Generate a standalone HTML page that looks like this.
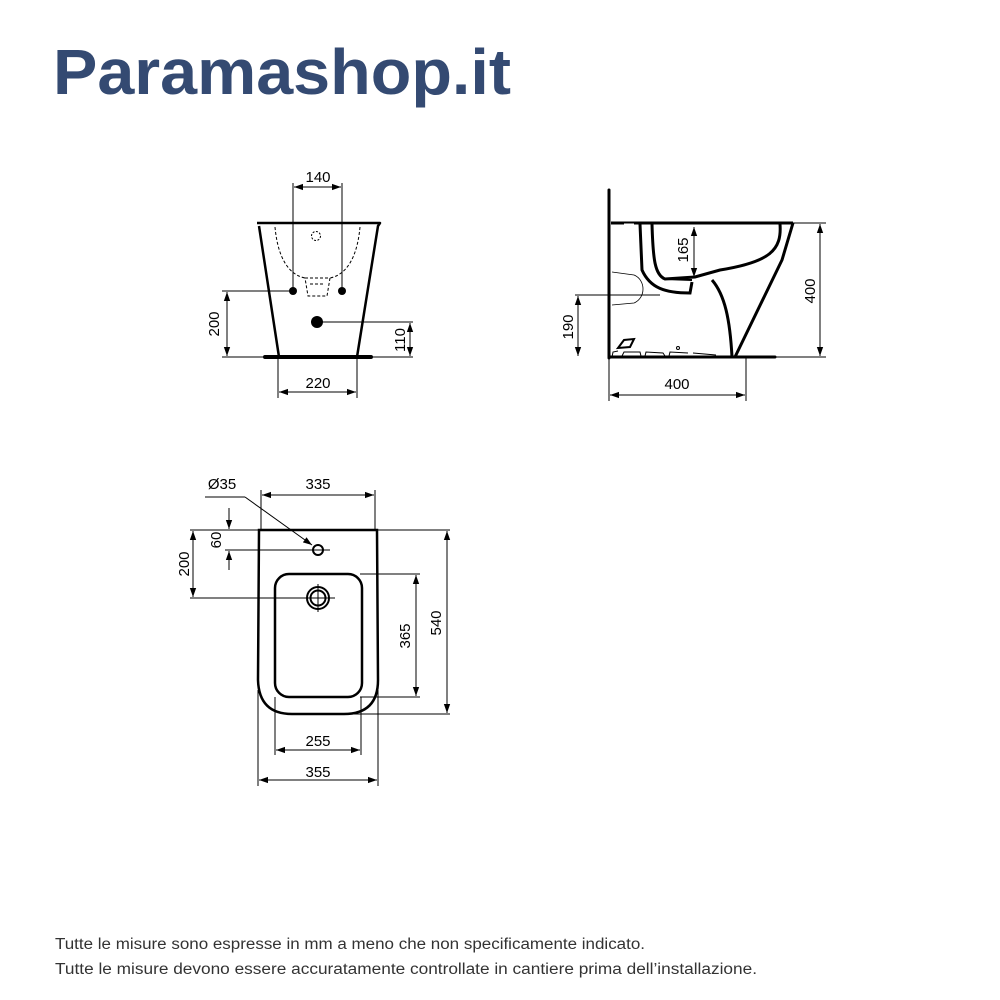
<!DOCTYPE html>
<html><head><meta charset="utf-8">
<style>
html,body{margin:0;padding:0;background:#fff;}
svg{display:block;}
text{font-family:"Liberation Sans",sans-serif;}
</style></head>
<body>
<svg width="1000" height="1000" viewBox="0 0 1000 1000" xmlns="http://www.w3.org/2000/svg">
<defs>
<marker id="a" viewBox="0 0 10 10" refX="10" refY="5" markerWidth="9" markerHeight="9" markerUnits="userSpaceOnUse" orient="auto-start-reverse">
<path d="M0,1.5 L10,5 L0,8.5 z" fill="#000"/></marker>
</defs>
<rect width="1000" height="1000" fill="#fff"/>
<text x="53" y="94" font-size="64" font-weight="bold" fill="#344a72" textLength="458" lengthAdjust="spacingAndGlyphs">Paramashop.it</text>

<!-- FRONT VIEW -->
<g fill="none" stroke="#000">
<path d="M257,223 L380,223 L378,226 L357,357 M259,226 L279,357" stroke-width="2.5" stroke-linejoin="round"/>
<line x1="265" y1="357" x2="371" y2="357" stroke-width="4" stroke-linecap="round"/>
<path d="M275,227 C278,260 290,275 305,278 M360,227 C357,260 345,275 330,278" stroke-width="1" stroke-dasharray="3,2"/>
<path d="M305,278 L330,278 L327,296 L308,296 Z M310,284 L325,284" stroke-width="1" stroke-dasharray="3,2"/>
<circle cx="316" cy="236" r="4.5" stroke-width="1" stroke-dasharray="2,1.5"/>
<g stroke-width="1">
<line x1="293" y1="183" x2="293" y2="291"/><line x1="342" y1="183" x2="342" y2="291"/>
<line x1="294" y1="187" x2="341" y2="187" marker-start="url(#a)" marker-end="url(#a)"/>
<line x1="222" y1="291" x2="293" y2="291"/>
<line x1="227" y1="292" x2="227" y2="356" marker-start="url(#a)" marker-end="url(#a)"/>
<line x1="317" y1="322" x2="413" y2="322"/>
<line x1="410" y1="323" x2="410" y2="356" marker-start="url(#a)" marker-end="url(#a)"/>
<line x1="222" y1="357" x2="413" y2="357"/>
<line x1="278" y1="357" x2="278" y2="398"/><line x1="357" y1="357" x2="357" y2="398"/>
<line x1="279" y1="392" x2="356" y2="392" marker-start="url(#a)" marker-end="url(#a)"/>
</g>
</g>
<circle cx="293" cy="291" r="4" fill="#000"/><circle cx="342" cy="291" r="4" fill="#000"/>
<circle cx="317" cy="322" r="6" fill="#000"/>
<g font-size="15" fill="#000" text-anchor="middle">
<text x="318" y="182">140</text>
<text x="318" y="388">220</text>
<text transform="translate(219,324) rotate(-90)">200</text>
<text transform="translate(405,340) rotate(-90)">110</text>
</g>

<!-- SIDE VIEW -->
<g fill="none" stroke="#000">
<line x1="609" y1="190" x2="609" y2="358" stroke-width="3" stroke-linecap="round"/>
<line x1="609" y1="357" x2="775" y2="357" stroke-width="3" stroke-linecap="round"/>
<line x1="611" y1="223" x2="793" y2="223" stroke-width="3"/>
<path d="M793,223 L782,260 L735,357" stroke-width="3"/>
<path d="M780,224 C782,250 770,262 720,270 L695,277 L665,279 C655,275 653,260 652,224" stroke-width="3"/>
<path d="M640,224 L642,270 C650,288 665,293 690,293 L692,282" stroke-width="3"/>
<path d="M665,279 L692,280" stroke-width="2"/>
<path d="M712,280 C725,295 730,320 732,357" stroke-width="3"/>
<path d="M612,272 L634,275 C646,280 646,298 634,303 L612,305" stroke-width="0.8"/>
<line x1="624" y1="224" x2="634" y2="224" stroke="#fff" stroke-width="1"/>
<path d="M618,348 L624,340 L634,339 L630,347 Z" stroke-width="2"/>
<path d="M612,357 L613,352 L618,351 M622,356 L624,352 L640,352 L641,356 M645,356 L646,352 L663,353 L665,356 M669,356 L670,352 L688,353 M693,353 L716,355" stroke-width="1"/>
<circle cx="678" cy="348" r="1.5" stroke-width="1"/>
<g stroke-width="1">
<line x1="694" y1="227" x2="694" y2="277" marker-start="url(#a)" marker-end="url(#a)"/>
<line x1="793" y1="223" x2="826" y2="223"/><line x1="775" y1="357" x2="826" y2="357"/>
<line x1="820" y1="224" x2="820" y2="356" marker-start="url(#a)" marker-end="url(#a)"/>
<line x1="575" y1="295" x2="660" y2="295"/>
<line x1="578" y1="296" x2="578" y2="356" marker-start="url(#a)" marker-end="url(#a)"/>
<line x1="609" y1="357" x2="609" y2="401"/><line x1="746" y1="357" x2="746" y2="401"/>
<line x1="610" y1="395" x2="745" y2="395" marker-start="url(#a)" marker-end="url(#a)"/>
</g>
</g>
<g font-size="15" fill="#000" text-anchor="middle">
<text transform="translate(688,250) rotate(-90)">165</text>
<text transform="translate(815,291) rotate(-90)">400</text>
<text transform="translate(573,327) rotate(-90)">190</text>
<text x="677" y="389">400</text>
</g>

<!-- TOP VIEW -->
<g fill="none" stroke="#000">
<path d="M259,530 L377,530 L378,680 Q378,714 344,714 L292,714 Q259,714 258,680 Z" stroke-width="2.5"/>
<rect x="275" y="574" width="87" height="123" rx="14" stroke-width="2.5"/>
<circle cx="318" cy="550" r="5" stroke-width="2"/>
<circle cx="318" cy="598" r="11" stroke-width="2"/>
<circle cx="318" cy="598" r="7.5" stroke-width="2"/>
<g stroke-width="1">
<line x1="261" y1="490" x2="261" y2="530"/><line x1="375" y1="490" x2="375" y2="530"/>
<line x1="262" y1="495" x2="374" y2="495" marker-start="url(#a)" marker-end="url(#a)"/>
<line x1="205" y1="497" x2="245" y2="497"/>
<line x1="245" y1="497" x2="312" y2="545" marker-end="url(#a)"/>
<line x1="190" y1="530" x2="450" y2="530"/>
<line x1="225" y1="550" x2="330" y2="550"/>
<line x1="229" y1="508" x2="229" y2="529" marker-end="url(#a)"/>
<line x1="229" y1="570" x2="229" y2="551" marker-end="url(#a)"/>
<line x1="190" y1="598" x2="335" y2="598"/>
<line x1="318" y1="584" x2="318" y2="612"/>
<line x1="193" y1="531" x2="193" y2="597" marker-start="url(#a)" marker-end="url(#a)"/>
<line x1="360" y1="574" x2="420" y2="574"/><line x1="360" y1="697" x2="420" y2="697"/>
<line x1="416" y1="575" x2="416" y2="696" marker-start="url(#a)" marker-end="url(#a)"/>
<line x1="344" y1="714" x2="450" y2="714"/>
<line x1="447" y1="531" x2="447" y2="713" marker-start="url(#a)" marker-end="url(#a)"/>
<line x1="275" y1="697" x2="275" y2="755"/><line x1="361" y1="697" x2="361" y2="755"/>
<line x1="276" y1="750" x2="360" y2="750" marker-start="url(#a)" marker-end="url(#a)"/>
<line x1="258" y1="690" x2="258" y2="786"/><line x1="378" y1="690" x2="378" y2="786"/>
<line x1="259" y1="780" x2="377" y2="780" marker-start="url(#a)" marker-end="url(#a)"/>
</g>
</g>
<g font-size="15" fill="#000" text-anchor="middle">
<text x="318" y="489">335</text>
<text x="222" y="489">Ø35</text>
<text transform="translate(221,540) rotate(-90)">60</text>
<text transform="translate(189,564) rotate(-90)">200</text>
<text transform="translate(410,636) rotate(-90)">365</text>
<text transform="translate(441,623) rotate(-90)">540</text>
<text x="318" y="746">255</text>
<text x="318" y="777">355</text>
</g>

<g font-size="15.5" fill="#333">
<text x="55" y="949" textLength="590" lengthAdjust="spacingAndGlyphs">Tutte le misure sono espresse in mm a meno che non specificamente indicato.</text>
<text x="55" y="974" textLength="702" lengthAdjust="spacingAndGlyphs">Tutte le misure devono essere accuratamente controllate in cantiere prima dell’installazione.</text>
</g>
</svg>
</body></html>
